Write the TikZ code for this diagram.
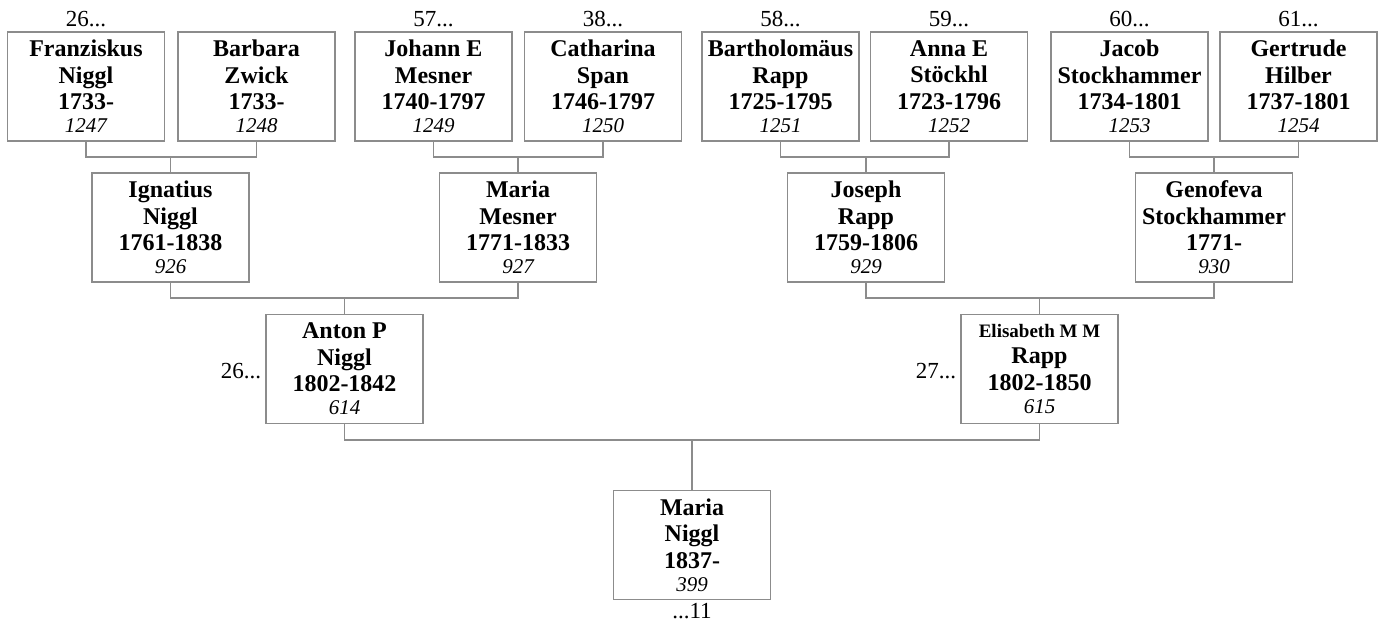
\documentclass[tikz,border=0pt]{standalone}
\usepackage{fontspec}
\setmainfont{Liberation Serif}
\usepackage{tikz}
\definecolor{boxgray}{RGB}{140,140,140}
\newcommand{\refno}[1]{\\[-3.5pt]{\mdseries\itshape\fontsize{21}{21}\selectfont #1}}

\begin{document}
\begin{tikzpicture}[x=1pt, y=-1pt,
    person/.style={draw=boxgray, line width=1.5pt, minimum width=157, minimum height=109,
                   inner sep=0pt, align=center, font=\fontsize{24}{26.5}\selectfont\bfseries},
    link/.style={draw=boxgray, line width=1.5pt},
    gen/.style={font=\fontsize{23}{23}\selectfont, inner sep=4pt}]
    \useasboundingbox (0,0) rectangle (1382,628);

    % Great-grandparents
    \node[person] (fr) at (86,86.5)     {Franziskus\\Niggl\\1733-\refno{1247}};
    \node[person] (ba) at (256.5,86.5)  {Barbara\\Zwick\\1733-\refno{1248}};
    \node[person] (jo) at (433.5,86.5)  {Johann E\\Mesner\\1740-1797\refno{1249}};
    \node[person] (ca) at (603,86.5)    {Catharina\\Span\\1746-1797\refno{1250}};
    \node[person] (bt) at (780.5,86.5)  {Bartholomäus\\Rapp\\1725-1795\refno{1251}};
    \node[person] (an) at (949,86.5)    {Anna E\\Stöckhl\\1723-1796\refno{1252}};
    \node[person] (jc) at (1129.5,86.5) {Jacob\\Stockhammer\\1734-1801\refno{1253}};
    \node[person] (ge) at (1298.5,86.5) {Gertrude\\Hilber\\1737-1801\refno{1254}};

    % Grandparents
    \node[person] (ig) at (170.5,227.5) {Ignatius\\Niggl\\1761-1838\refno{926}};
    \node[person] (mm) at (518,227.5)   {Maria\\Mesner\\1771-1833\refno{927}};
    \node[person] (js) at (866,227.5)   {Joseph\\Rapp\\1759-1806\refno{929}};
    \node[person] (gn) at (1214,227.5)  {Genofeva\\Stockhammer\\1771-\refno{930}};

    % Parents
    \node[person] (ap) at (344.5,369)  {Anton P\\Niggl\\1802-1842\refno{614}};
    \node[person] (er) at (1039.5,369) {{\fontsize{19}{19}\selectfont Elisabeth M M}\\Rapp\\1802-1850\refno{615}};

    % Root
    \node[person] (mn) at (692,545) {Maria\\Niggl\\1837-\refno{399}};

    % Connectors
    \foreach \f/\m/\c in {fr/ba/ig, jo/ca/mm, bt/an/js, jc/ge/gn, ig/mm/ap, js/gn/er, ap/er/mn} {
        \draw[link] (\f.south) -- ++(0,15.5) coordinate (bus) -| (\m.south);
        \draw[link] (\c.north) -- (\c.north |- bus);
    }

    % Generation numbers
    \foreach \n/\g in {fr/26, jo/57, ca/38, bt/58, an/59, jc/60, ge/61}
        \node[gen, above] at (\n.north) {\g...};
    \node[gen, left, yshift=-2] at (ap.west) {26...};
    \node[gen, left, yshift=-2] at (er.west) {27...};
    \node[gen, below, inner sep=3pt] at (mn.south) {...11};
\end{tikzpicture}
\end{document}
